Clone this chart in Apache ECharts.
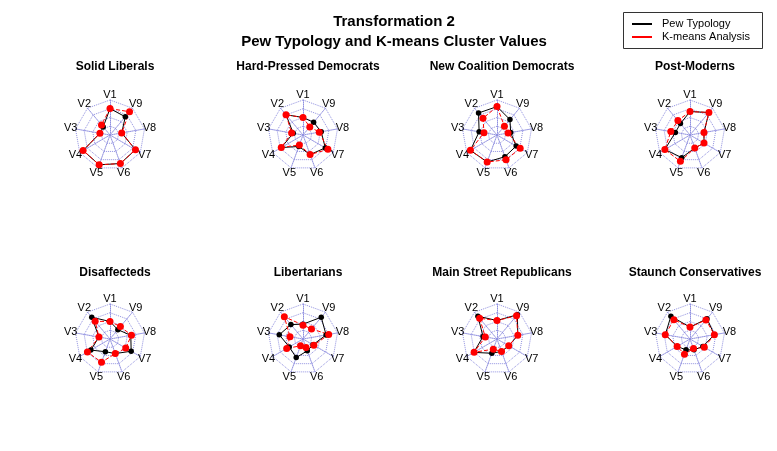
<!DOCTYPE html>
<html>
<head>
<meta charset="utf-8">
<script src="https://cdn.jsdelivr.net/npm/echarts@6/dist/echarts.min.js"></script>
<style>html,body{margin:0;padding:0;background:#fff;}#c{width:777px;height:451px;}</style>
</head>
<body>
<div id="c"></div>
<script>
const categories = ['V1','V2','V3','V4','V5','V6','V7','V8','V9'];
const panelTitles = ['Solid Liberals','Hard-Pressed Democrats','New Coalition Democrats','Post-Moderns',
  'Disaffecteds','Libertarians','Main Street Republicans','Staunch Conservatives'];
const seriesNames = ['Pew Typology','K-means Analysis'];
const pewTypology = [
  [0.80,0.32,0.31,0.94,0.96,0.92,0.89,0.36,0.72],
  [0.53,0.80,0.30,0.76,0.37,0.63,0.78,0.56,0.50],
  [0.86,0.87,0.55,0.93,0.87,0.70,0.67,0.42,0.61],
  [0.71,0.45,0.45,0.88,0.73,0.42,0.49,0.43,0.89],
  [0.53,0.86,0.34,0.67,0.41,0.47,0.74,0.64,0.37],
  [0.45,0.57,0.73,0.48,0.60,0.38,0.35,0.71,0.86],
  [0.56,0.90,0.43,0.81,0.46,0.40,0.41,0.64,0.96],
  [0.36,0.90,0.76,0.45,0.35,0.35,0.45,0.75,0.80]
];
const kmeansAnalysis = [
  [0.80,0.40,0.31,0.94,0.96,0.92,0.89,0.36,0.92],
  [0.53,0.80,0.35,0.76,0.32,0.63,0.87,0.50,0.32],
  [0.86,0.66,0.40,0.93,0.87,0.80,0.81,0.34,0.35],
  [0.71,0.57,0.59,0.88,0.85,0.42,0.49,0.43,0.89],
  [0.53,0.70,0.34,0.79,0.75,0.47,0.55,0.66,0.49],
  [0.42,0.88,0.40,0.57,0.22,0.27,0.38,0.79,0.40],
  [0.56,0.82,0.36,0.80,0.33,0.40,0.41,0.64,0.92],
  [0.36,0.76,0.76,0.45,0.49,0.31,0.50,0.75,0.75]
];
const axisMin = 0;
const axisMax = 1.06;

const colX = [110, 303, 497, 690];
const rowY = [135, 339];
const titleY = [56, 262];
const gridColor = '#9090e0';
const FONT = 'Liberation Sans, Arial, Helvetica, sans-serif';

const radars = [], series = [], titles = [];
titles.push({
  text: 'Transformation 2\nPew Typology and K-means Cluster Values',
  left: 389, top: 7, textAlign: 'center',
  textStyle: {fontFamily: FONT, fontSize: 15, fontWeight: 'bold', color: '#000', lineHeight: 20}
});
panelTitles.forEach((t, i) => {
  const cx = colX[i % 4], r = Math.floor(i / 4);
  titles.push({
    text: t, left: cx, top: titleY[r], textAlign: 'center',
    textStyle: {fontFamily: FONT, fontSize: 12, fontWeight: 'bold', color: '#000'}
  });
  radars.push({
    center: [cx, rowY[r]], radius: 35, startAngle: 90, splitNumber: 4, shape: 'polygon',
    indicator: categories.map(c => ({name: c, max: axisMax, min: axisMin})),
    nameGap: 5,
    axisName: {color: '#000', fontFamily: FONT, fontSize: 11, align: 'center', verticalAlign: 'middle'},
    splitLine: {lineStyle: {color: gridColor, type: 'dotted', width: 1}},
    axisLine: {lineStyle: {color: gridColor, type: 'dotted', width: 1}},
    splitArea: {show: false},
    axisTick: {show: false}, axisLabel: {show: false}
  });
  series.push({
    type: 'radar', radarIndex: i, name: seriesNames[0], silent: true,
    symbol: 'circle', symbolSize: 5.5,
    lineStyle: {color: '#000', width: 1},
    itemStyle: {color: '#000'},
    data: [{value: pewTypology[i], name: seriesNames[0]}]
  });
  series.push({
    type: 'radar', radarIndex: i, name: seriesNames[1], silent: true,
    symbol: 'circle', symbolSize: 7,
    lineStyle: {color: '#ff0000', width: 1, type: [4, 2]},
    itemStyle: {color: '#ff0000'},
    data: [{value: kmeansAnalysis[i], name: seriesNames[1]}]
  });
});

const chart = echarts.init(document.getElementById('c'), null, {renderer: 'canvas'});
chart.setOption({
  backgroundColor: '#fff',
  animation: false,
  title: titles,
  radar: radars,
  series: series,
  graphic: [
    {type: 'rect', shape: {x: 623.5, y: 12.5, width: 139, height: 36}, style: {fill: '#fff', stroke: '#333', lineWidth: 1}},
    {type: 'line', shape: {x1: 632, y1: 24, x2: 652, y2: 24}, style: {stroke: '#000', lineWidth: 2}},
    {type: 'line', shape: {x1: 632, y1: 37, x2: 652, y2: 37}, style: {stroke: '#ff0000', lineWidth: 2}},
    {type: 'text', x: 662, y: 24, style: {text: seriesNames[0], fontFamily: FONT, fontSize: 11, fill: '#000', verticalAlign: 'middle'}},
    {type: 'text', x: 662, y: 37, style: {text: seriesNames[1], fontFamily: FONT, fontSize: 11, fill: '#000', verticalAlign: 'middle'}}
  ]
});
</script>
</body>
</html>
